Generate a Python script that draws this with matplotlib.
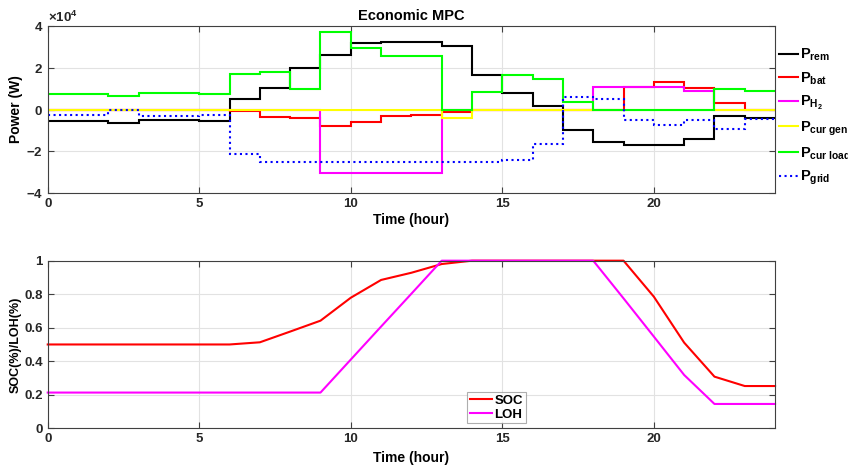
import numpy as np
import matplotlib
matplotlib.use('Agg')
import matplotlib.pyplot as plt
from matplotlib.ticker import ScalarFormatter

plt.rcParams['font.family'] = ['Liberation Sans', 'DejaVu Sans']
plt.rcParams['font.weight'] = 'bold'
plt.rcParams['mathtext.fontset'] = 'custom'
plt.rcParams['mathtext.rm'] = 'Liberation Sans:bold'
plt.rcParams['mathtext.it'] = 'Liberation Sans:bold'
plt.rcParams['mathtext.bf'] = 'Liberation Sans:bold'

# hourly step values (W), one per hour 0..23
hours = np.arange(25)
p_rem = [-5600, -5600, -6400, -5100, -5100, -5600, 4800, 10400, 19900, 26000,
         31900, 32400, 32200, 30300, 16600, 8000, 1900, -9600, -15600, -17200,
         -17200, -14000, -3200, -4000]
p_bat = [0, 0, 0, 0, 0, 0, -800, -3500, -4300, -8000,
         -6100, -2900, -2600, -1300, 0, 0, 0, 0, 0, 10800,
         13200, 10400, 2900, 0]
p_h2 = [0, 0, 0, 0, 0, 0, 0, 0, 0, -30300,
        -30300, -30300, -30300, 0, 0, 0, 0, 0, 10800, 10800,
        10800, 8800, 0, 0]
p_cur_gen = [0] * 13 + [-4000] + [0] * 10
p_cur_load = [7500, 7500, 6400, 7700, 8000, 7500, 17200, 18000, 9600, 37000,
              29500, 25800, 25800, 0, 8500, 16300, 14400, 3500, 0, 0,
              0, 0, 9900, 8800]
p_grid = [-2400, -2400, 0, -3200, -3200, -2400, -21200, -25200, -25200, -25200,
          -25200, -25200, -25200, -25200, -25200, -24400, -16700, 5900, 4800, -4800,
          -7200, -5100, -9300, -4500]

soc = [0.50, 0.50, 0.50, 0.50, 0.50, 0.50, 0.50, 0.513, 0.577, 0.642,
       0.779, 0.885, 0.928, 0.98, 1.0, 1.0, 1.0, 1.0, 1.0, 1.0,
       0.785, 0.511, 0.308, 0.252, 0.252]
loh = [0.213, 0.213, 0.213, 0.213, 0.213, 0.213, 0.213, 0.213, 0.213, 0.213,
       0.41, 0.607, 0.803, 1.0, 1.0, 1.0, 1.0, 1.0, 1.0, 0.775,
       0.547, 0.318, 0.145, 0.145, 0.145]

fig = plt.figure(figsize=(8.48, 4.65), dpi=100)
ax1 = fig.add_axes([0.0563, 0.585, 0.8577, 0.359])
ax2 = fig.add_axes([0.0563, 0.079, 0.8577, 0.3604])

AX_COL = '#404040'
GRID_COL = '#e2e2e2'

def style(ax):
    for s in ax.spines.values():
        s.set_color(AX_COL)
        s.set_linewidth(0.8)
    ax.tick_params(direction='in', length=4, width=0.8, colors=AX_COL,
                   labelcolor='#262626', labelsize=9.5, top=True, right=True)
    ax.grid(True, color=GRID_COL, linewidth=0.8)
    ax.set_axisbelow(True)
    ax.set_xlim(0, 24)
    ax.set_xticks([0, 5, 10, 15, 20])
    for lab in ax.get_xticklabels() + ax.get_yticklabels():
        lab.set_fontweight('bold')

series = [
    (p_rem, 'k', '-', r'$P_{rem}$'),
    (p_bat, '#ff0000', '-', r'$P_{bat}$'),
    (p_h2, '#ff00ff', '-', r'$P_{H_2}$'),
    (p_cur_gen, '#ffff00', '-', r'$P_{cur\ gen}$'),
    (p_cur_load, '#00ff00', '-', r'$P_{cur\ load}$'),
    (p_grid, '#0000ff', ':', r'$P_{grid}$'),
]
for vals, col, ls, lab in series:
    ax1.stairs(vals, hours, baseline=None, color=col, linestyle=ls,
               linewidth=1.5, label=lab)

ax1.set_ylim(-40000, 40000)
ax1.set_yticks([-40000, -20000, 0, 20000, 40000])
fmt = ScalarFormatter(useMathText=True)
fmt.set_powerlimits((4, 4))
ax1.yaxis.set_major_formatter(fmt)
ax1.yaxis.get_offset_text().set_fontsize(9.5)
ax1.yaxis.get_offset_text().set_color('#262626')
style(ax1)
ax1.set_title('Economic MPC', fontsize=10.5, fontweight='bold', pad=4)
ax1.set_xlabel('Time (hour)', fontsize=10, fontweight='bold', labelpad=2)
ax1.set_ylabel('Power (W)', fontsize=10, fontweight='bold', labelpad=2)
ax1.legend(loc='upper left', bbox_to_anchor=(0.997, 0.91), frameon=False,
           fontsize=10.5, handlelength=1.35, handletextpad=0.12,
           labelspacing=0.5, borderaxespad=0.0)

ax2.plot(np.arange(len(soc)), soc, color='#ff0000', linewidth=1.5,
         label='SOC', clip_on=False)
ax2.plot(np.arange(len(loh)), loh, color='#ff00ff', linewidth=1.5,
         label='LOH', clip_on=False)
ax2.set_ylim(0, 1)
ax2.set_yticks([0, 0.2, 0.4, 0.6, 0.8, 1])
ax2.set_yticklabels(['0', '0.2', '0.4', '0.6', '0.8', '1'])
style(ax2)
ax2.set_xlabel('Time (hour)', fontsize=10, fontweight='bold', labelpad=4)
ax2.set_ylabel('SOC(%)/LOH(%)', fontsize=9, fontweight='bold', labelpad=2)
leg = ax2.legend(loc='lower left', bbox_to_anchor=(0.577, 0.03), fontsize=9.5,
                 handlelength=1.7, handletextpad=0.15, borderpad=0.2,
                 labelspacing=0.1, fancybox=False, shadow=False,
                 edgecolor='#9a9a9a', borderaxespad=0.0)
leg.get_frame().set_linewidth(0.8)

fig.savefig('out.png', dpi=100)
